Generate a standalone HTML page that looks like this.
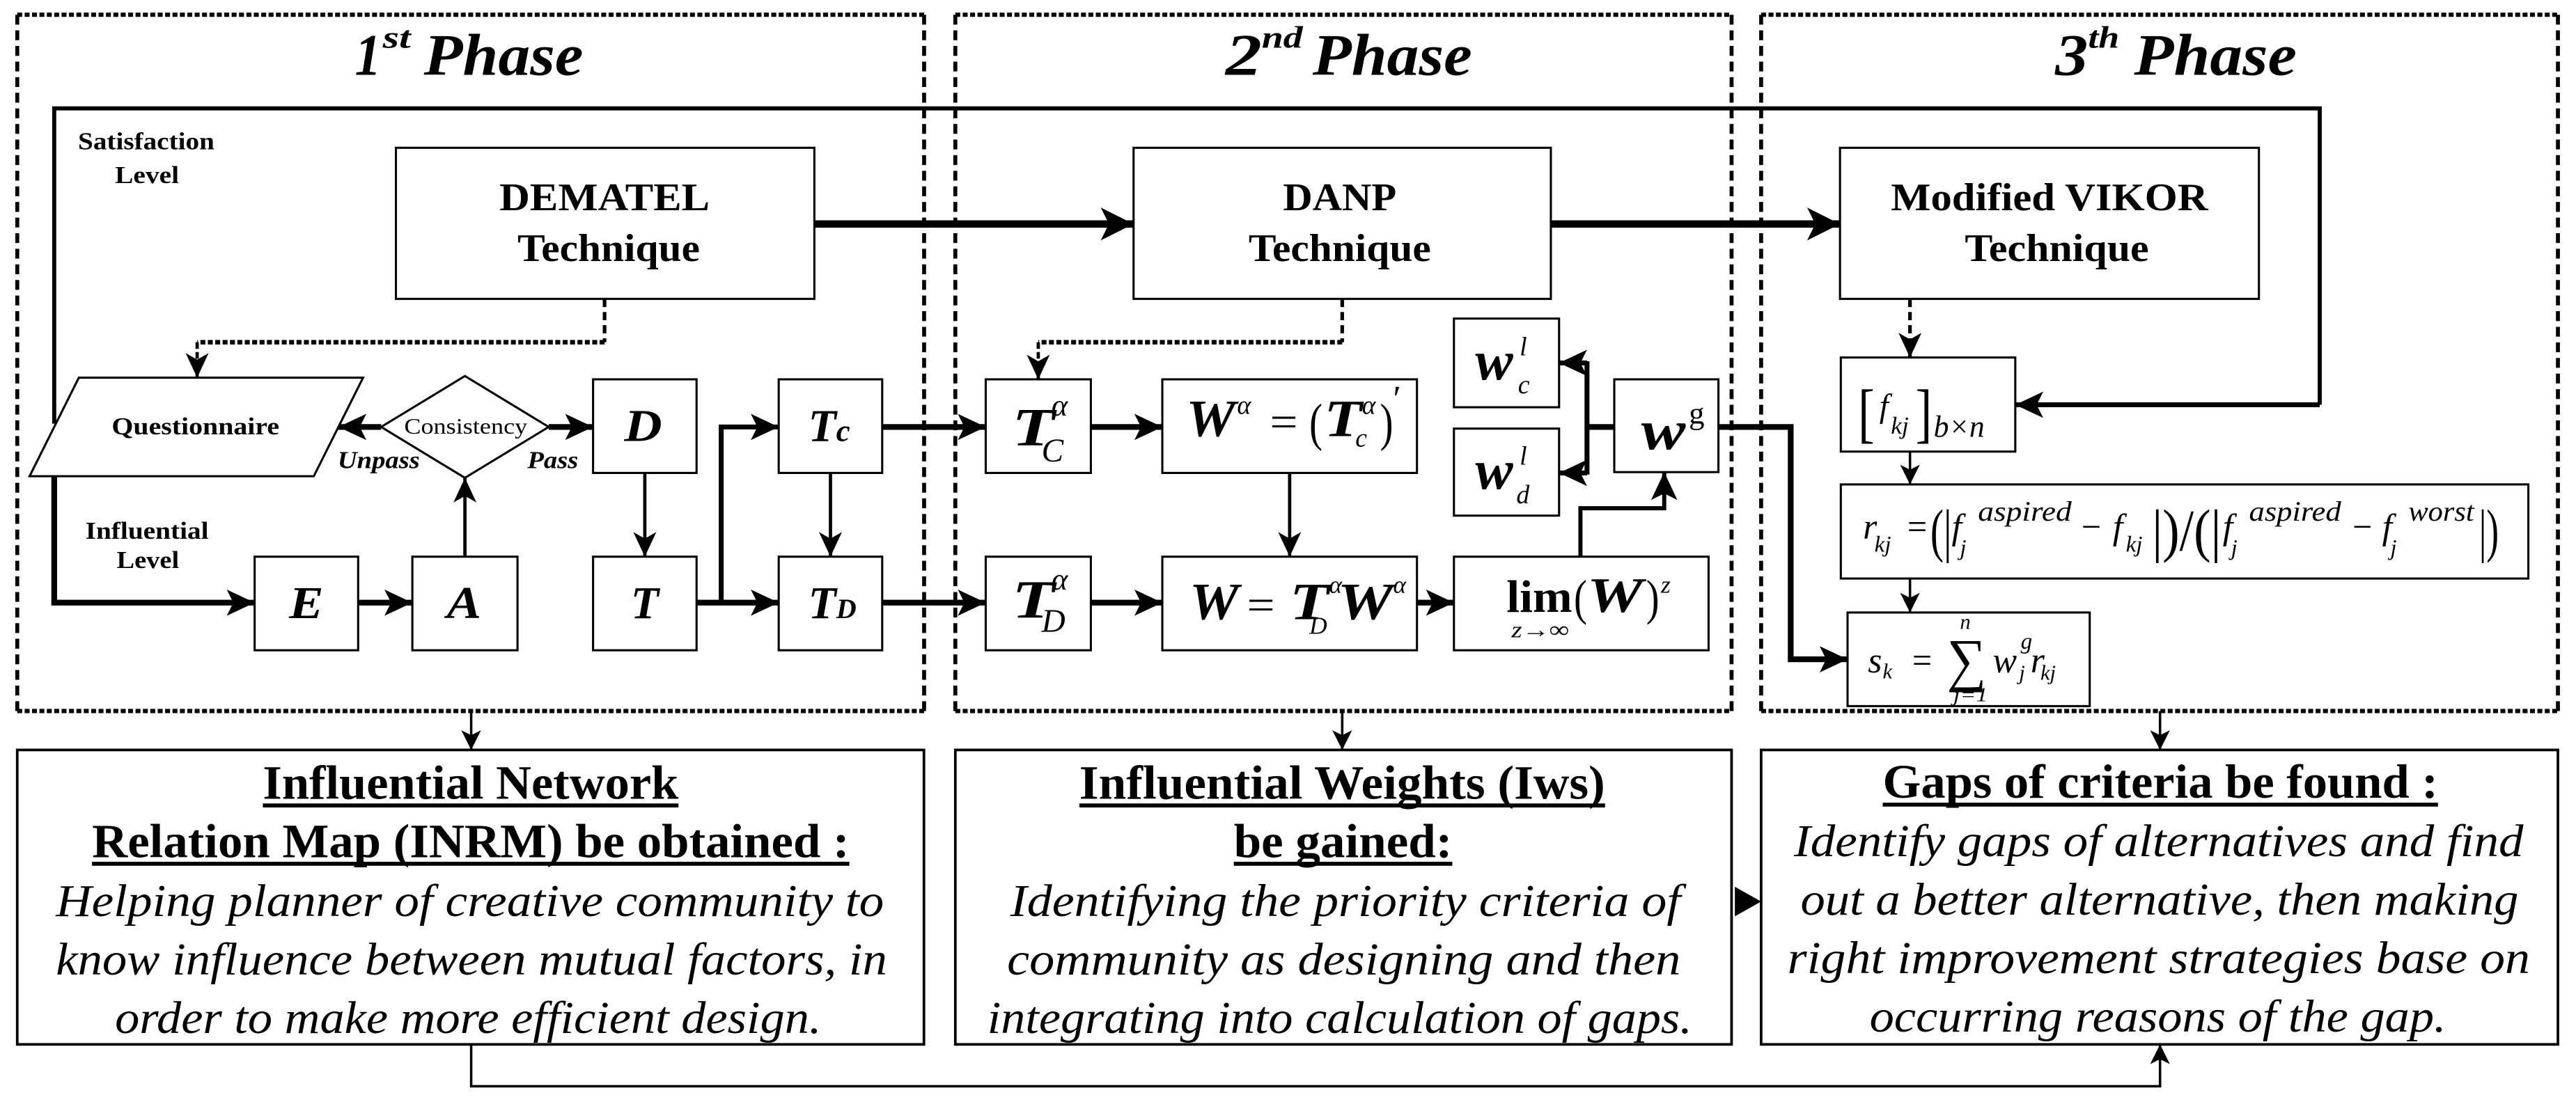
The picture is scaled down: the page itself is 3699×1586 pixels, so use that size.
<!DOCTYPE html>
<html><head><meta charset="utf-8"><style>
html,body{margin:0;padding:0;background:#fff;}
svg{display:block;}
text{font-family:"Liberation Serif","DejaVu Serif",serif;fill:#000;}
</style></head><body>
<svg xmlns="http://www.w3.org/2000/svg" width="3699" height="1586" viewBox="0 0 1568 672.3" preserveAspectRatio="none">
<defs>
<marker id="hb" markerUnits="userSpaceOnUse" viewBox="0 0 20 20" refX="20" refY="10" markerWidth="20" markerHeight="20" orient="auto"><path d="M0,0 L20,10 L0,20 L5,10 Z"/></marker>
<marker id="hm" markerUnits="userSpaceOnUse" viewBox="0 0 17 16" refX="17" refY="8" markerWidth="17" markerHeight="16" orient="auto"><path d="M0,0 L17,8 L0,16 L4,8 Z"/></marker>
<marker id="ht" markerUnits="userSpaceOnUse" viewBox="0 0 15 14" refX="15" refY="7" markerWidth="15" markerHeight="14" orient="auto"><path d="M0,0 L15,7 L0,14 L4,7 Z"/></marker>
<marker id="hs" markerUnits="userSpaceOnUse" viewBox="0 0 12 12" refX="12" refY="6" markerWidth="12" markerHeight="12" orient="auto"><path d="M0,0 L12,6 L0,12 L3,6 Z"/></marker>
</defs>

<!-- Phase dashed frames -->
<g fill="none" stroke="#000">
 <g stroke-width="2.6" stroke-dasharray="3 1.5">
  <line x1="10.5" y1="9" x2="562.5" y2="9"/><line x1="10.5" y1="433" x2="562.5" y2="433"/>
  <line x1="581.5" y1="9" x2="1054" y2="9"/><line x1="581.5" y1="433" x2="1054" y2="433"/>
  <line x1="1072" y1="9" x2="1557" y2="9"/><line x1="1072" y1="433" x2="1557" y2="433"/>
 </g>
 <g stroke-width="2.4" stroke-dasharray="6 3.5">
  <line x1="10.5" y1="9" x2="10.5" y2="433"/><line x1="562.5" y1="9" x2="562.5" y2="433"/>
  <line x1="581.5" y1="9" x2="581.5" y2="433"/><line x1="1054" y1="9" x2="1054" y2="433"/>
  <line x1="1072" y1="9" x2="1072" y2="433"/><line x1="1557" y1="9" x2="1557" y2="433"/>
 </g>
</g>

<!-- Titles -->
<g font-weight="bold" font-style="italic">
 <text x="216" y="45.5" font-size="36" textLength="16" lengthAdjust="spacingAndGlyphs">1</text>
 <text x="233" y="29" font-size="19" textLength="17" lengthAdjust="spacingAndGlyphs">st</text>
 <text x="258" y="45.5" font-size="36" textLength="97" lengthAdjust="spacingAndGlyphs">Phase</text>
 <text x="746" y="45.5" font-size="36" textLength="22" lengthAdjust="spacingAndGlyphs">2</text>
 <text x="768" y="29" font-size="19" textLength="25" lengthAdjust="spacingAndGlyphs">nd</text>
 <text x="799" y="45.5" font-size="36" textLength="97" lengthAdjust="spacingAndGlyphs">Phase</text>
 <text x="1251" y="45.5" font-size="36" textLength="20" lengthAdjust="spacingAndGlyphs">3</text>
 <text x="1271" y="29" font-size="19" textLength="19" lengthAdjust="spacingAndGlyphs">th</text>
 <text x="1299" y="45.5" font-size="36" textLength="99" lengthAdjust="spacingAndGlyphs">Phase</text>
</g>

<!-- Satisfaction / Influential labels -->
<g font-weight="bold" font-size="15">
 <text x="47.5" y="91" textLength="83" lengthAdjust="spacingAndGlyphs">Satisfaction</text>
 <text x="70" y="111.5" textLength="39" lengthAdjust="spacingAndGlyphs">Level</text>
 <text x="52" y="328" textLength="75" lengthAdjust="spacingAndGlyphs">Influential</text>
 <text x="71" y="346" textLength="38" lengthAdjust="spacingAndGlyphs">Level</text>
</g>

<!-- Top technique boxes -->
<g fill="none" stroke="#000" stroke-width="1.3">
 <rect x="241" y="90" width="254.7" height="92"/>
 <rect x="690" y="90" width="254" height="92"/>
 <rect x="1120" y="90" width="255" height="92"/>
</g>
<g font-weight="bold" font-size="24">
 <text x="304" y="128" textLength="128" lengthAdjust="spacingAndGlyphs">DEMATEL</text>
 <text x="315" y="159" textLength="111" lengthAdjust="spacingAndGlyphs">Technique</text>
 <text x="781" y="128" textLength="69" lengthAdjust="spacingAndGlyphs">DANP</text>
 <text x="760" y="159" textLength="111" lengthAdjust="spacingAndGlyphs">Technique</text>
 <text x="1151" y="128" textLength="193" lengthAdjust="spacingAndGlyphs">Modified VIKOR</text>
 <text x="1196" y="159" textLength="112" lengthAdjust="spacingAndGlyphs">Technique</text>
</g>

<!-- Phase 1 shapes -->
<g fill="#fff" stroke="#000" stroke-width="1.3">
 <polygon points="48,230 221,230 191,290 18,290"/>
 <polygon points="283,229 334,260 283,291 232,260"/>
 <rect x="361" y="231" width="63" height="57"/>
 <rect x="474" y="231" width="63" height="57"/>
 <rect x="155" y="339" width="63" height="57"/>
 <rect x="251" y="339" width="64" height="57"/>
 <rect x="361" y="339" width="63" height="57"/>
 <rect x="474" y="339" width="63" height="57"/>
</g>
<text x="68" y="264.5" font-weight="bold" font-size="15" textLength="102" lengthAdjust="spacingAndGlyphs">Questionnaire</text>
<text x="246" y="264" font-size="13.5" textLength="75" lengthAdjust="spacingAndGlyphs">Consistency</text>
<g font-weight="bold" font-style="italic" font-size="15">
 <text x="205.5" y="285" textLength="50" lengthAdjust="spacingAndGlyphs">Unpass</text>
 <text x="321" y="285" textLength="31" lengthAdjust="spacingAndGlyphs">Pass</text>
</g>
<g font-weight="bold" font-style="italic" font-size="28">
 <text x="380" y="268.5" textLength="23" lengthAdjust="spacingAndGlyphs">D</text>
 <text x="176" y="376.5" textLength="21" lengthAdjust="spacingAndGlyphs">E</text>
 <text x="272" y="376.5" textLength="21" lengthAdjust="spacingAndGlyphs">A</text>
 <text x="384" y="376.5" textLength="17" lengthAdjust="spacingAndGlyphs">T</text>
 <text x="492" y="268.5" textLength="17" lengthAdjust="spacingAndGlyphs">T</text>
 <text x="492" y="376.5" textLength="17" lengthAdjust="spacingAndGlyphs">T</text>
 <text x="509" y="268.5" font-size="19">c</text>
 <text x="509" y="376.5" font-size="17">D</text>
</g>

<!-- Phase 2 boxes -->
<g fill="none" stroke="#000" stroke-width="1.3">
 <rect x="600" y="231" width="64" height="57"/>
 <rect x="707.5" y="231" width="155" height="57"/>
 <rect x="600" y="339" width="64" height="57"/>
 <rect x="707.5" y="339" width="155" height="57"/>
 <rect x="885" y="339" width="155" height="57"/>
 <rect x="885" y="194" width="64" height="54"/>
 <rect x="885" y="261" width="64" height="53"/>
 <rect x="982.6" y="231" width="63.4" height="56.5"/>
</g>
<!-- T_C^alpha -->
<text x="616" y="271" font-weight="bold" font-style="italic" font-size="33" textLength="26" lengthAdjust="spacingAndGlyphs">T</text>
<text x="640" y="253" font-style="italic" font-size="19">α</text>
<text x="634" y="281" font-style="italic" font-size="20">C</text>
<!-- W^a = (T_c^a)' -->
<text x="722" y="265.5" font-weight="bold" font-style="italic" font-size="32" textLength="30" lengthAdjust="spacingAndGlyphs">W</text>
<text x="753" y="252" font-style="italic" font-size="16">α</text>
<text x="773" y="265.5" font-size="26" textLength="17" lengthAdjust="spacingAndGlyphs">=</text>
<text x="797" y="268" font-size="32" textLength="8" lengthAdjust="spacingAndGlyphs">(</text>
<text x="806" y="265.5" font-weight="bold" font-style="italic" font-size="32" textLength="23" lengthAdjust="spacingAndGlyphs">T</text>
<text x="829" y="252" font-style="italic" font-size="16">α</text>
<text x="825" y="272" font-style="italic" font-size="16">c</text>
<text x="840" y="268" font-size="32" textLength="8" lengthAdjust="spacingAndGlyphs">)</text>
<text x="848" y="250" font-size="22">′</text>
<!-- T_D^alpha -->
<text x="616" y="376" font-weight="bold" font-style="italic" font-size="33" textLength="26" lengthAdjust="spacingAndGlyphs">T</text>
<text x="640" y="359" font-style="italic" font-size="19">α</text>
<text x="634" y="385" font-style="italic" font-size="20">D</text>
<!-- W = T_D^a W^a -->
<text x="724" y="377" font-weight="bold" font-style="italic" font-size="32" textLength="30" lengthAdjust="spacingAndGlyphs">W</text>
<text x="759" y="377" font-size="26" textLength="17" lengthAdjust="spacingAndGlyphs">=</text>
<text x="785" y="377" font-weight="bold" font-style="italic" font-size="32" textLength="24" lengthAdjust="spacingAndGlyphs">T</text>
<text x="809" y="361" font-style="italic" font-size="15">α</text>
<text x="797" y="386" font-style="italic" font-size="15">D</text>
<text x="814" y="377" font-weight="bold" font-style="italic" font-size="32" textLength="34" lengthAdjust="spacingAndGlyphs">W</text>
<text x="848" y="361" font-style="italic" font-size="15">α</text>
<!-- lim -->
<text x="917" y="372.5" font-weight="bold" font-size="28" textLength="40" lengthAdjust="spacingAndGlyphs">lim</text>
<text x="958" y="374" font-size="30" textLength="8" lengthAdjust="spacingAndGlyphs">(</text>
<text x="966" y="372.5" font-weight="bold" font-style="italic" font-size="30" textLength="34" lengthAdjust="spacingAndGlyphs">W</text>
<text x="1002" y="374" font-size="30" textLength="8" lengthAdjust="spacingAndGlyphs">)</text>
<text x="1011" y="361" font-style="italic" font-size="15">z</text>
<text x="920" y="388" font-style="italic" font-size="14" textLength="35" lengthAdjust="spacingAndGlyphs">z→∞</text>
<!-- w_c^l, w_d^l, w^g -->
<text x="898" y="231" font-weight="bold" font-style="italic" font-size="34" textLength="23" lengthAdjust="spacingAndGlyphs">w</text>
<text x="925" y="216.5" font-style="italic" font-size="16">l</text>
<text x="924" y="239.5" font-style="italic" font-size="16">c</text>
<text x="898" y="297.5" font-weight="bold" font-style="italic" font-size="34" textLength="23" lengthAdjust="spacingAndGlyphs">w</text>
<text x="925" y="283" font-style="italic" font-size="16">l</text>
<text x="923" y="306.5" font-style="italic" font-size="16">d</text>
<text x="999" y="273.5" font-weight="bold" font-style="italic" font-size="34" textLength="27" lengthAdjust="spacingAndGlyphs">w</text>
<text x="1028" y="258" font-size="19">g</text>

<!-- Phase 3 boxes -->
<g fill="none" stroke="#000" stroke-width="1.3">
 <rect x="1120.5" y="217.7" width="106.2" height="57.3"/>
 <rect x="1120.5" y="295" width="418.5" height="57.3"/>
 <rect x="1124.6" y="373" width="147.4" height="57"/>
</g>
<g font-style="italic">
 <text x="1131" y="265" font-size="40" font-style="normal" textLength="10" lengthAdjust="spacingAndGlyphs">[</text>
 <text x="1166" y="265" font-size="40" font-style="normal" textLength="10" lengthAdjust="spacingAndGlyphs">]</text>
 <text x="1144" y="254" font-size="20">f</text>
 <text x="1151" y="264" font-size="15">kj</text>
 <text x="1177" y="266" font-size="19" textLength="31" lengthAdjust="spacingAndGlyphs">b×n</text>

 <text x="1134" y="328" font-size="22">r</text>
 <text x="1141" y="336" font-size="14">kj</text>
 <text x="1161" y="328" font-size="22" font-style="normal" textLength="12" lengthAdjust="spacingAndGlyphs">=</text>
 <text x="1175" y="335" font-size="36" font-style="normal" textLength="13" lengthAdjust="spacingAndGlyphs">(|</text>
 <text x="1188" y="328" font-size="22">f</text>
 <text x="1204" y="317" font-size="17" textLength="57" lengthAdjust="spacingAndGlyphs">aspired</text>
 <text x="1193" y="338" font-size="14">j</text>
 <text x="1267" y="328" font-size="22" font-style="normal" textLength="12" lengthAdjust="spacingAndGlyphs">−</text>
 <text x="1286" y="328" font-size="22">f</text>
 <text x="1294" y="336" font-size="14">kj</text>
 <text x="1310" y="335" font-size="36" font-style="normal" textLength="42" lengthAdjust="spacingAndGlyphs">|)/(|</text>
 <text x="1353" y="328" font-size="22">f</text>
 <text x="1369" y="317" font-size="17" textLength="56" lengthAdjust="spacingAndGlyphs">aspired</text>
 <text x="1358" y="338" font-size="14">j</text>
 <text x="1432" y="328" font-size="22" font-style="normal" textLength="12" lengthAdjust="spacingAndGlyphs">−</text>
 <text x="1450" y="328" font-size="22">f</text>
 <text x="1466" y="317" font-size="17" textLength="40" lengthAdjust="spacingAndGlyphs">worst</text>
 <text x="1455" y="338" font-size="14">j</text>
 <text x="1509" y="335" font-size="36" font-style="normal" textLength="12" lengthAdjust="spacingAndGlyphs">|)</text>

 <text x="1137" y="409.5" font-size="22">s</text>
 <text x="1146" y="413" font-size="13">k</text>
 <text x="1164" y="409.5" font-size="22" font-style="normal" textLength="12" lengthAdjust="spacingAndGlyphs">=</text>
 <text x="1185" y="414" font-size="36" font-style="normal" textLength="24" lengthAdjust="spacingAndGlyphs">∑</text>
 <text x="1193" y="383" font-size="13">n</text>
 <text x="1189" y="427" font-size="12" textLength="21" lengthAdjust="spacingAndGlyphs">j=1</text>
 <text x="1213" y="409.5" font-size="22">w</text>
 <text x="1230" y="395" font-size="14">g</text>
 <text x="1229" y="414" font-size="13">j</text>
 <text x="1236" y="409.5" font-size="22">r</text>
 <text x="1242" y="414" font-size="13">kj</text>
</g>

<!-- Connectors -->
<g fill="none" stroke="#000">
 <polyline points="33,258 33,66 1412,66 1412,246.5" stroke-width="2.5"/>
 <line x1="1412" y1="246.5" x2="1226.7" y2="246.5" stroke-width="3" marker-end="url(#hm)"/>
 <polyline points="33,290 33,367 155,367" stroke-width="3.5" marker-end="url(#hm)"/>
 <line x1="495.7" y1="136.4" x2="690" y2="136.4" stroke-width="4.5" marker-end="url(#hb)"/>
 <line x1="944" y1="136.4" x2="1120" y2="136.4" stroke-width="4.5" marker-end="url(#hb)"/>
 <line x1="368" y1="182" x2="368" y2="208.4" stroke-width="2.2" stroke-dasharray="5 3"/>
 <line x1="368" y1="208.4" x2="120" y2="208.4" stroke-width="2.8" stroke-dasharray="3 1.5"/>
 <line x1="120" y1="208.4" x2="120" y2="230" stroke-width="2" stroke-dasharray="4 2" marker-end="url(#ht)"/>
 <line x1="817" y1="182" x2="817" y2="208.4" stroke-width="2.2" stroke-dasharray="5 3"/>
 <line x1="817" y1="208.4" x2="632" y2="208.4" stroke-width="2.8" stroke-dasharray="3 1.5"/>
 <line x1="632" y1="208.4" x2="632" y2="231" stroke-width="2" stroke-dasharray="4 2" marker-end="url(#ht)"/>
 <line x1="1162.6" y1="182" x2="1162.6" y2="217.7" stroke-width="2.2" stroke-dasharray="5 3" marker-end="url(#ht)"/>
 <line x1="232" y1="260" x2="206" y2="260" stroke-width="3.5" marker-end="url(#hm)"/>
 <line x1="334" y1="260" x2="361" y2="260" stroke-width="3.5" marker-end="url(#hm)"/>
 <line x1="283" y1="339" x2="283" y2="291" stroke-width="2" marker-end="url(#ht)"/>
 <line x1="218" y1="367" x2="251" y2="367" stroke-width="3.5" marker-end="url(#hm)"/>
 <line x1="392.5" y1="288" x2="392.5" y2="339" stroke-width="2" marker-end="url(#ht)"/>
 <line x1="505.5" y1="288" x2="505.5" y2="339" stroke-width="2" marker-end="url(#ht)"/>
 <line x1="424" y1="367" x2="474" y2="367" stroke-width="3.5" marker-end="url(#hm)"/>
 <polyline points="439,367 439,260 474,260" stroke-width="3" marker-end="url(#hm)"/>
 <line x1="537" y1="260" x2="600" y2="260" stroke-width="3.5" marker-end="url(#hm)"/>
 <line x1="537" y1="367" x2="600" y2="367" stroke-width="3.5" marker-end="url(#hm)"/>
 <line x1="664" y1="260" x2="707.5" y2="260" stroke-width="3.5" marker-end="url(#hm)"/>
 <line x1="664" y1="367" x2="707.5" y2="367" stroke-width="3.5" marker-end="url(#hm)"/>
 <line x1="785" y1="288" x2="785" y2="339" stroke-width="2" marker-end="url(#ht)"/>
 <line x1="862.5" y1="367" x2="885" y2="367" stroke-width="3.5" marker-end="url(#hm)"/>
 <polyline points="962,339 962,309.5 1013,309.5 1013,287.5" stroke-width="2.5" marker-end="url(#hm)"/>
 <line x1="982.6" y1="260" x2="966" y2="260" stroke-width="3.5"/>
 <line x1="966" y1="220" x2="966" y2="289" stroke-width="3"/>
 <line x1="966" y1="221" x2="949" y2="221" stroke-width="3" marker-end="url(#hm)"/>
 <line x1="966" y1="288" x2="949" y2="288" stroke-width="3" marker-end="url(#hm)"/>
 <polyline points="1046,260 1090,260 1090,401.5 1124.6,401.5" stroke-width="3.5" marker-end="url(#hm)"/>
 <line x1="1162.6" y1="275" x2="1162.6" y2="295" stroke-width="1.5" marker-end="url(#hs)"/>
 <line x1="1162.6" y1="352.3" x2="1162.6" y2="373" stroke-width="1.5" marker-end="url(#hs)"/>
 <line x1="286.8" y1="433" x2="286.8" y2="456.7" stroke-width="1.5" marker-end="url(#hs)"/>
 <line x1="817" y1="433" x2="817" y2="456.7" stroke-width="1.5" marker-end="url(#hs)"/>
 <line x1="1314.8" y1="433" x2="1314.8" y2="456.7" stroke-width="1.5" marker-end="url(#hs)"/>
 <polyline points="286.8,636 286.8,661.5 1314.8,661.5 1314.8,636" stroke-width="1.5" marker-end="url(#hs)"/>
</g>
<polygon points="1056,540 1072,549 1056,558" fill="#000"/>

<!-- Result boxes -->
<g fill="none" stroke="#000" stroke-width="1.6">
 <rect x="10.5" y="456.7" width="551.9" height="179.3"/>
 <rect x="581.5" y="456.7" width="472.5" height="179.3"/>
 <rect x="1072" y="456.7" width="485" height="179.3"/>
</g>
<g font-weight="bold" font-size="29">
 <text x="160" y="486.5" textLength="253" lengthAdjust="spacingAndGlyphs">Influential Network</text>
 <text x="56" y="522" textLength="461" lengthAdjust="spacingAndGlyphs">Relation Map (INRM) be obtained :</text>
 <text x="657" y="486.5" textLength="320" lengthAdjust="spacingAndGlyphs">Influential Weights (Iws)</text>
 <text x="751" y="522" textLength="133" lengthAdjust="spacingAndGlyphs">be gained:</text>
 <text x="1146" y="485.7" textLength="338" lengthAdjust="spacingAndGlyphs">Gaps of criteria be found :</text>
</g>
<g stroke="#000" stroke-width="2.4">
 <line x1="160" y1="490.5" x2="413" y2="490.5"/>
 <line x1="56" y1="526" x2="517" y2="526"/>
 <line x1="657" y1="490.5" x2="977" y2="490.5"/>
 <line x1="751" y1="526" x2="884" y2="526"/>
 <line x1="1146" y1="490" x2="1484" y2="490"/>
</g>
<g font-style="italic" font-size="28">
 <text x="34" y="557.8" textLength="504" lengthAdjust="spacingAndGlyphs">Helping planner of creative community to</text>
 <text x="34" y="593.4" textLength="506" lengthAdjust="spacingAndGlyphs">know influence between mutual factors, in</text>
 <text x="70" y="629" textLength="430" lengthAdjust="spacingAndGlyphs">order to make more efficient design.</text>
 <text x="615" y="557.8" textLength="408" lengthAdjust="spacingAndGlyphs">Identifying the priority criteria of</text>
 <text x="613" y="593.4" textLength="410" lengthAdjust="spacingAndGlyphs">community as designing  and then</text>
 <text x="601" y="629" textLength="429" lengthAdjust="spacingAndGlyphs">integrating into calculation of gaps.</text>
 <text x="1092" y="521.3" textLength="444" lengthAdjust="spacingAndGlyphs">Identify gaps of alternatives and find</text>
 <text x="1096" y="557" textLength="437" lengthAdjust="spacingAndGlyphs">out a better alternative, then making</text>
 <text x="1088" y="592.6" textLength="452" lengthAdjust="spacingAndGlyphs">right improvement strategies base  on</text>
 <text x="1138" y="628.3" textLength="351" lengthAdjust="spacingAndGlyphs">occurring reasons of the gap.</text>
</g>
</svg>
</body></html>
